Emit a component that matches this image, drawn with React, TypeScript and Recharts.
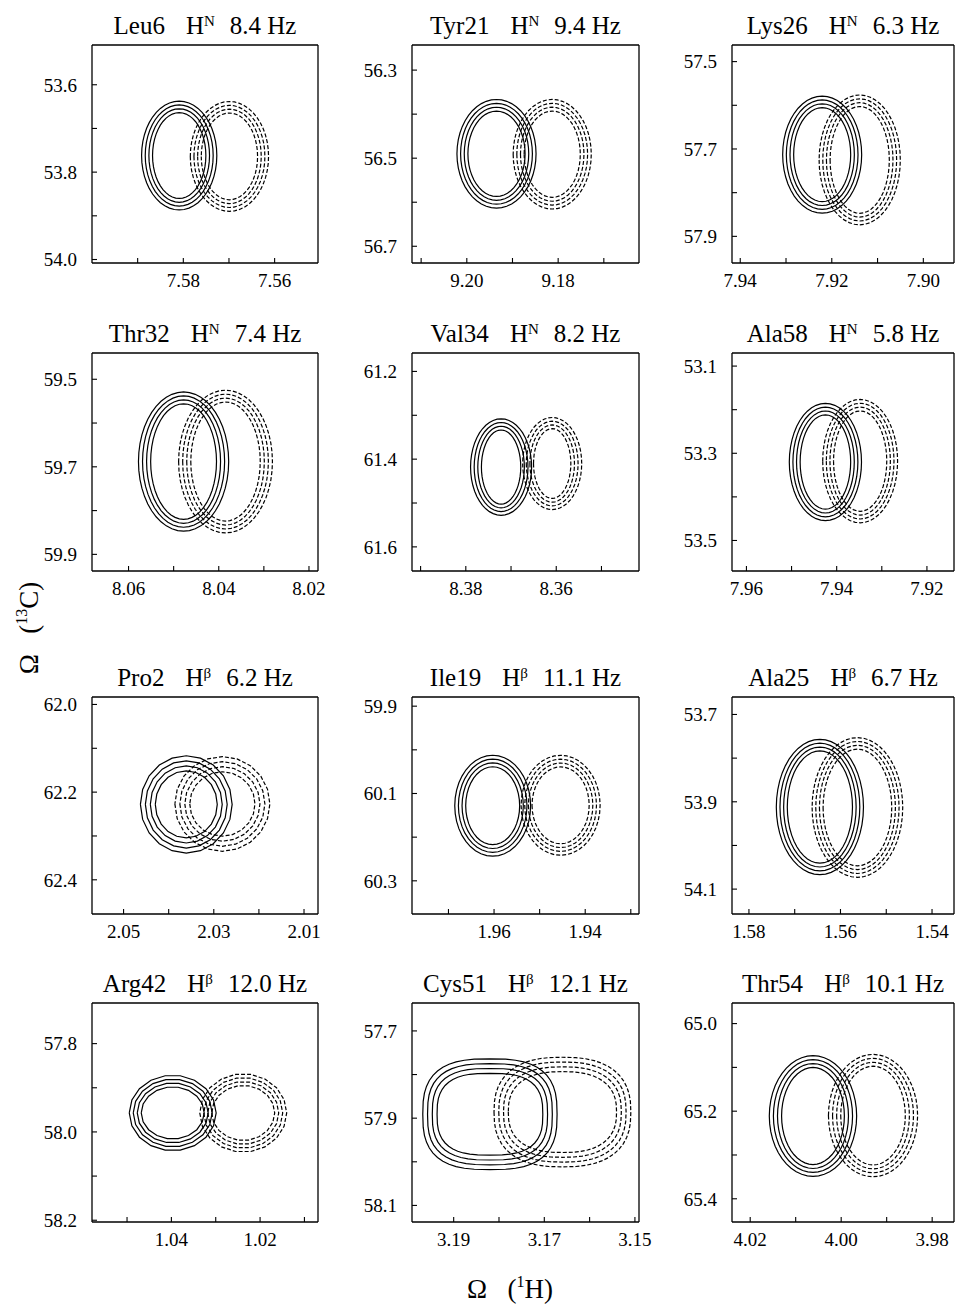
import { ComposedChart, Line, XAxis, YAxis } from "recharts";

const residues = ["Leu6", "Tyr21", "Lys26", "Thr32", "Val34", "Ala58", "Pro2", "Ile19", "Ala25", "Arg42", "Cys51", "Thr54"];
const protons = ["N", "N", "N", "N", "N", "N", "β", "β", "β", "β", "β", "β"];
const couplings = ["8.4", "9.4", "6.3", "7.4", "8.2", "5.8", "6.2", "11.1", "6.7", "12.0", "12.1", "10.1"];

// axis ranges (ppm)
const xDomains: [number, number][] = [
  [7.5505, 7.6], [9.1623, 9.212], [7.8933, 7.9418],
  [8.018, 8.0681], [8.3417, 8.3919], [7.914, 7.9632],
  [2.0069, 2.057], [1.9282, 1.978], [1.5352, 1.5837],
  [1.00694, 1.0579], [3.1491, 3.1992], [3.9752, 4.024],
];
const yDomains: [number, number][] = [
  [53.509, 54.008], [56.243, 56.738], [57.462, 57.961],
  [59.44, 59.938], [61.158, 61.655], [53.07, 53.57],
  [61.983, 62.478], [59.879, 60.376], [53.66, 54.157],
  [57.708, 58.204], [57.636, 58.138], [64.953, 65.453],
];

const xTicks = [
  [7.56, 7.57, 7.58, 7.59], [9.17, 9.18, 9.19, 9.2, 9.21], [7.9, 7.91, 7.92, 7.93, 7.94],
  [8.02, 8.03, 8.04, 8.05, 8.06], [8.35, 8.36, 8.37, 8.38, 8.39], [7.92, 7.93, 7.94, 7.95, 7.96],
  [2.01, 2.02, 2.03, 2.04, 2.05], [1.93, 1.94, 1.95, 1.96, 1.97], [1.54, 1.55, 1.56, 1.57, 1.58],
  [1.01, 1.02, 1.03, 1.04, 1.05], [3.15, 3.16, 3.17, 3.18, 3.19], [3.98, 3.99, 4.0, 4.01, 4.02],
];
const xLabels = [
  [7.56, 7.58], [9.18, 9.2], [7.9, 7.92, 7.94],
  [8.02, 8.04, 8.06], [8.36, 8.38], [7.92, 7.94, 7.96],
  [2.01, 2.03, 2.05], [1.94, 1.96], [1.54, 1.56, 1.58],
  [1.02, 1.04], [3.15, 3.17, 3.19], [3.98, 4.0, 4.02],
];
const yTicks = [
  [53.6, 53.7, 53.8, 53.9, 54.0], [56.3, 56.4, 56.5, 56.6, 56.7], [57.5, 57.6, 57.7, 57.8, 57.9],
  [59.5, 59.6, 59.7, 59.8, 59.9], [61.2, 61.3, 61.4, 61.5, 61.6], [53.1, 53.2, 53.3, 53.4, 53.5],
  [62.0, 62.1, 62.2, 62.3, 62.4], [59.9, 60.0, 60.1, 60.2, 60.3], [53.7, 53.8, 53.9, 54.0, 54.1],
  [57.8, 57.9, 58.0, 58.1, 58.2], [57.7, 57.8, 57.9, 58.0, 58.1], [65.0, 65.1, 65.2, 65.3, 65.4],
];
const yLabels = [
  [53.6, 53.8, 54.0], [56.3, 56.5, 56.7], [57.5, 57.7, 57.9],
  [59.5, 59.7, 59.9], [61.2, 61.4, 61.6], [53.1, 53.3, 53.5],
  [62.0, 62.2, 62.4], [59.9, 60.1, 60.3], [53.7, 53.9, 54.1],
  [57.8, 58.0, 58.2], [57.7, 57.9, 58.1], [65.0, 65.2, 65.4],
];

// contour peaks: centre [x, y] and outer-ring half widths [x, y] (ppm)
const solidCenters = [
  [7.5809, 53.762], [9.1935, 56.49], [7.9221, 57.713],
  [8.0478, 59.688], [8.3722, 61.418], [7.9425, 53.32],
  [2.0361, 62.228], [1.9603, 60.128], [1.5645, 53.912],
  [1.0397, 57.957], [3.182, 57.891], [4.0062, 65.211],
];
const solidRadii = [
  [0.00824, 0.1246], [0.00866, 0.1233], [0.00863, 0.134],
  [0.01, 0.159], [0.00675, 0.11], [0.008, 0.1346],
  [0.01017, 0.111], [0.00832, 0.1156], [0.00952, 0.155],
  [0.0098, 0.0855], [0.01482, 0.1269], [0.0096, 0.1378],
];
const dashedCenters = [
  [7.5699, 53.764], [9.1813, 56.491], [7.9139, 57.725],
  [8.0385, 59.688], [8.3609, 61.41], [7.9348, 53.318],
  [2.0281, 62.227], [1.9454, 60.127], [1.5563, 53.913],
  [1.0238, 57.957], [3.166, 57.886], [3.993, 65.21],
];
const dashedRadii = [
  [0.00857, 0.1257], [0.00855, 0.1244], [0.00887, 0.1486],
  [0.0104, 0.163], [0.00653, 0.105], [0.0083, 0.1415],
  [0.01053, 0.108], [0.00867, 0.1144], [0.0099, 0.16],
  [0.0098, 0.0887], [0.0151, 0.1257], [0.0098, 0.1397],
];
// spacing between contour levels [x, y] (ppm)
const ringGaps = [
  [0.0008, 0.0088], [0.0008, 0.0088], [0.0008, 0.0088],
  [0.0009, 0.009], [0.0008, 0.0085], [0.0008, 0.0088],
  [0.0011, 0.0115], [0.0008, 0.0088], [0.0008, 0.0088],
  [0.0009, 0.0088], [0.00105, 0.011], [0.0009, 0.009],
];
const solidShape = [2, 2, 2, 2, 2, 2, 2, 2, 2, 2, 2.8, 2];
const dashedShape = [2, 2, 2, 2, 2, 2, 2, 2, 2, 2, 2.5, 2];
const sides = [48, 48, 48, 48, 48, 48, 20, 40, 48, 18, 48, 48];
const levels = [0, 1, 2, 3];

const colLeft = [92, 412, 732];
const colRight = [318, 639, 954];
const rowTop = [45, 353, 697, 1003];
const rowBottom = [263, 571, 914, 1222];

const FONT = '"Liberation Serif", "Times New Roman", serif';
const Y_W = 60;
const TOP = 20;
const X_H = 36;
const RM = 30;

function contour(c: number[], r: number[], gap: number[], k: number, power: number, n: number) {
  const rx = r[0] - k * gap[0];
  const ry = r[1] - k * gap[1];
  const e = 2 / power;
  const pts = [];
  for (let j = 0; j <= n; j++) {
    const t = (j / n) * 2 * Math.PI;
    const ct = Math.cos(t);
    const st = Math.sin(t);
    pts.push({
      x: c[0] + rx * Math.sign(ct) * Math.abs(ct) ** e,
      y: c[1] + ry * Math.sign(st) * Math.abs(st) ** e,
    });
  }
  return pts;
}

const near = (list: number[], v: number) => list.some((m) => Math.abs(m - v) < 1e-6);

function Panel({ i }: { i: number }) {
  const col = i % 3;
  const row = Math.floor(i / 3);
  const L = colLeft[col];
  const T = rowTop[row];
  const pw = colRight[col] - L;
  const ph = rowBottom[row] - T;
  const axisLine = { stroke: "#000", strokeWidth: 1.3 };
  const tickLine = { stroke: "#000", strokeWidth: 1.1 };
  const tickText = { fontSize: 19, fill: "#000", fontFamily: FONT };

  return (
    <>
      <div
        style={{
          position: "absolute",
          left: L - 40,
          width: pw + 80,
          top: T - 32,
          textAlign: "center",
          fontFamily: FONT,
          fontSize: 25,
          lineHeight: "25px",
          whiteSpace: "nowrap",
          color: "#000",
        }}
      >
        {residues[i]}
        <span style={{ marginLeft: 21 }}>H</span>
        <span style={{ fontSize: 15, position: "relative", top: -8 }}>{protons[i]}</span>
        <span style={{ marginLeft: 15 }}>{couplings[i]} Hz</span>
      </div>
      <div style={{ position: "absolute", left: L - Y_W, top: T - TOP }}>
        <ComposedChart
          width={Y_W + pw + 1 + RM}
          height={ph + TOP + X_H}
          margin={{ top: TOP - 1, right: RM, bottom: 0, left: 0 }}
        >
          <XAxis
            xAxisId="b"
            dataKey="x"
            type="number"
            orientation="bottom"
            domain={xDomains[i]}
            reversed
            allowDataOverflow
            ticks={xTicks[i]}
            interval={0}
            tickFormatter={(v: number) => (near(xLabels[i], v) ? v.toFixed(2) : "")}
            tickSize={-5}
            tickMargin={16}
            height={X_H}
            axisLine={axisLine}
            tickLine={tickLine}
            tick={tickText}
          />
          <XAxis
            xAxisId="t"
            type="number"
            orientation="top"
            domain={xDomains[i]}
            reversed
            allowDataOverflow
            ticks={xTicks[i]}
            interval={0}
            tick={false}
            tickSize={-5}
            height={1}
            axisLine={axisLine}
            tickLine={tickLine}
          />
          <YAxis
            yAxisId="l"
            dataKey="y"
            type="number"
            orientation="left"
            domain={yDomains[i]}
            reversed
            allowDataOverflow
            ticks={yTicks[i]}
            interval={0}
            tickFormatter={(v: number) => (near(yLabels[i], v) ? v.toFixed(1) : "")}
            tickSize={-5}
            tickMargin={20}
            width={Y_W}
            axisLine={axisLine}
            tickLine={tickLine}
            tick={tickText}
          />
          <YAxis
            yAxisId="r"
            type="number"
            orientation="right"
            domain={yDomains[i]}
            reversed
            allowDataOverflow
            ticks={yTicks[i]}
            interval={0}
            tick={false}
            tickSize={-5}
            width={1}
            axisLine={axisLine}
            tickLine={tickLine}
          />
          {levels.map((k) => (
            <Line
              key={`s${k}`}
              data={contour(solidCenters[i], solidRadii[i], ringGaps[i], k, solidShape[i], sides[i])}
              dataKey="y"
              xAxisId="b"
              yAxisId="l"
              type="linear"
              stroke="#000"
              strokeWidth={1.2}
              dot={false}
              activeDot={false}
              isAnimationActive={false}
            />
          ))}
          {levels.map((k) => (
            <Line
              key={`d${k}`}
              data={contour(dashedCenters[i], dashedRadii[i], ringGaps[i], k, dashedShape[i], sides[i])}
              dataKey="y"
              xAxisId="b"
              yAxisId="l"
              type="linear"
              stroke="#000"
              strokeWidth={1.2}
              strokeDasharray="4 2"
              dot={false}
              activeDot={false}
              isAnimationActive={false}
            />
          ))}
        </ComposedChart>
      </div>
    </>
  );
}

export default function App() {
  return (
    <div
      style={{
        position: "absolute",
        left: 0,
        top: 0,
        width: 955,
        height: 1307,
        background: "#fff",
        overflow: "hidden",
      }}
    >
      {residues.map((_, i) => (
        <Panel key={residues[i]} i={i} />
      ))}
      <svg
        width={955}
        height={1307}
        style={{ position: "absolute", left: 0, top: 0, pointerEvents: "none" }}
      >
        <text
          transform="translate(38,628) rotate(-90)"
          textAnchor="middle"
          fontFamily={FONT}
          fontSize={27}
          fill="#000"
          style={{ whiteSpace: "pre" }}
        >
          {"Ω   ("}
          <tspan fontSize={16} dy={-11}>13</tspan>
          <tspan dy={11}>C)</tspan>
        </text>
        <text
          x={510}
          y={1298}
          textAnchor="middle"
          fontFamily={FONT}
          fontSize={27}
          fill="#000"
          style={{ whiteSpace: "pre" }}
        >
          {"Ω   ("}
          <tspan fontSize={16} dy={-11}>1</tspan>
          <tspan dy={11}>H)</tspan>
        </text>
      </svg>
    </div>
  );
}
